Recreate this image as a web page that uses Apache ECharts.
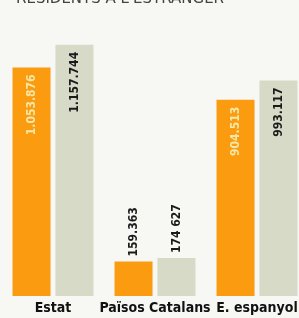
<!DOCTYPE html>
<html lang="ca" style="height: 100%">
<head>
    <meta charset="utf-8">
    <script type="text/javascript" src="https://cdn.jsdelivr.net/npm/echarts@6/dist/echarts.min.js"></script>
</head>
<body style="height: 100%; margin: 0; background: #f7f7f4">
    <div id="container" style="width: 299px; height: 318px"></div>
    <script type="text/javascript">
        var categories = ['Estat', 'Països Catalans', 'E. espanyol'];
        var valuesA = [1053876, 159363, 904513];
        var valuesB = [1157744, 174627, 993117];
        var labelsA = ['1.053.876', '159.363', '904.513'];
        var labelsB = ['1.157.744', '174 627', '993.117'];

        var labelFont = '"DejaVu Sans Condensed", "Liberation Sans Narrow", sans-serif';

        // tall bars get the number inside, short bars above
        function buildData(values, labels, insideColor) {
            return values.map(function (v, i) {
                var inside = v > 300000;
                return {
                    value: v,
                    label: {
                        show: true,
                        formatter: labels[i],
                        rotate: 90,
                        position: inside ? 'insideTop' : 'top',
                        align: inside ? 'right' : 'left',
                        verticalAlign: 'middle',
                        distance: inside ? 7 : 5,
                        color: inside ? insideColor : '#1a1a1a',
                        fontFamily: labelFont,
                        fontWeight: 'bold',
                        fontSize: 12
                    }
                };
            });
        }

        var chart = echarts.init(document.getElementById('container'), null, { renderer: 'canvas' });
        chart.setOption({
            backgroundColor: '#f7f7f4',
            animation: false,
            title: {
                text: "RESIDENTS A L'ESTRANGER",
                left: 11,
                top: -13,
                textStyle: { fontFamily: 'DejaVu Sans', fontWeight: 'normal', fontSize: 15, color: '#444' }
            },
            grid: { left: 2, width: 306, top: 14, bottom: 22, containLabel: false, outerBoundsMode: 'none' },
            xAxis: {
                type: 'category',
                data: categories,
                axisLine: { show: false },
                axisTick: { show: false },
                axisLabel: {
                    margin: 5,
                    interval: 0,
                    color: '#111',
                    fontFamily: labelFont,
                    fontWeight: 'bold',
                    fontSize: 14
                }
            },
            yAxis: {
                type: 'value',
                min: 0,
                max: 1300000,
                show: false,
                splitLine: { show: false }
            },
            series: [
                {
                    type: 'bar',
                    barWidth: 38,
                    barGap: '13%',
                    itemStyle: { color: '#fa9b10' },
                    data: buildData(valuesA, labelsA, '#f6e7a6')
                },
                {
                    type: 'bar',
                    barWidth: 38,
                    itemStyle: { color: '#d7dac7' },
                    data: buildData(valuesB, labelsB, '#1a1a1a')
                }
            ]
        });
    </script>
</body>
</html>
